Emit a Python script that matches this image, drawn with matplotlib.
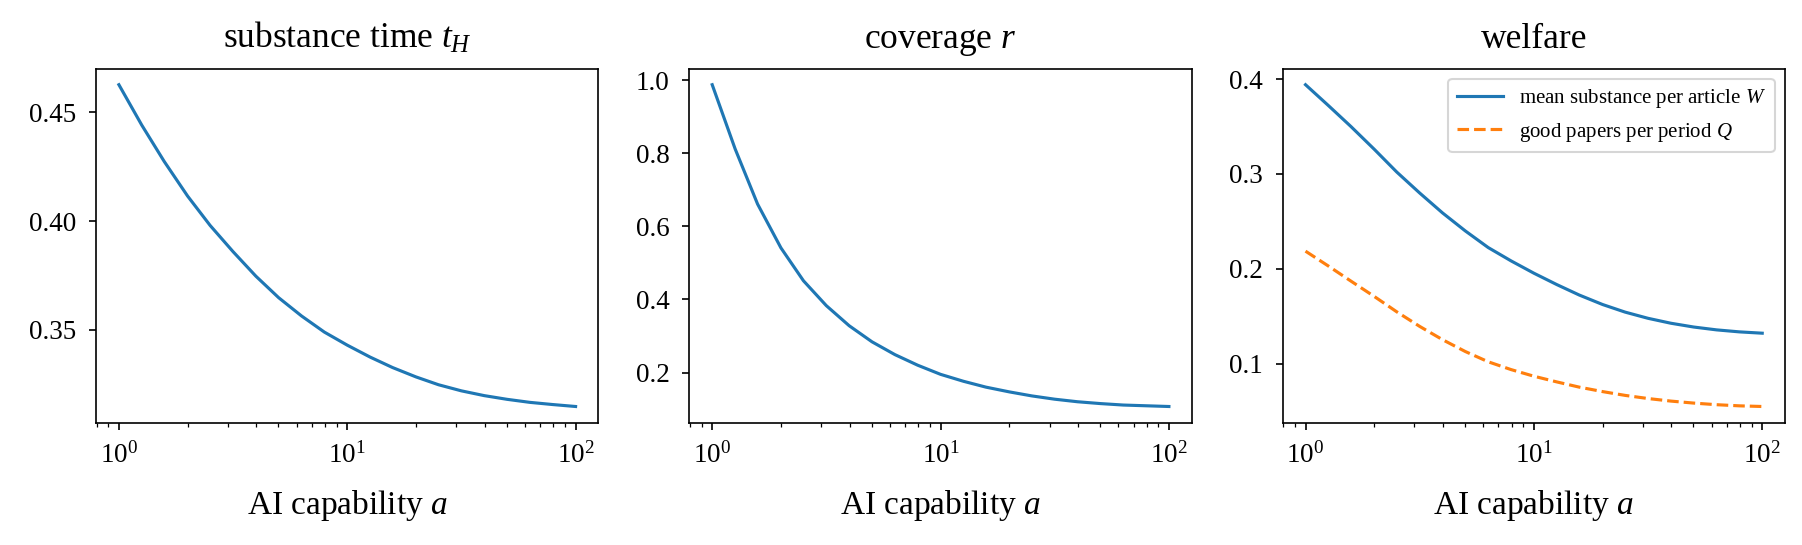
import matplotlib
matplotlib.use("Agg")
import matplotlib.pyplot as plt
from matplotlib.ticker import MultipleLocator

plt.rcParams['font.family'] = ['Liberation Serif', 'DejaVu Serif']
plt.rcParams['mathtext.fontset'] = 'custom'
plt.rcParams['mathtext.rm'] = 'Liberation Serif'
plt.rcParams['mathtext.it'] = 'Liberation Serif:italic'

# AI capability grid (log spaced)
a = [1.0, 1.26, 1.58, 2.0, 2.51, 3.16, 3.98, 5.01, 6.31, 7.94, 10.0,
     12.6, 15.8, 20.0, 25.1, 31.6, 39.8, 50.1, 63.1, 79.4, 100.0]

t_H = [0.4627, 0.4441, 0.4274, 0.4115, 0.3980, 0.3860, 0.3747, 0.3648, 0.3564, 0.3490, 0.3430,
       0.3375, 0.3327, 0.3284, 0.3248, 0.3220, 0.3198, 0.3181, 0.3167, 0.3157, 0.3148]

r = [0.9875, 0.812, 0.661, 0.541, 0.451, 0.383, 0.328, 0.284, 0.249, 0.220, 0.195,
     0.176, 0.160, 0.147, 0.136, 0.127, 0.120, 0.115, 0.111, 0.109, 0.107]

W = [0.394, 0.372, 0.350, 0.326, 0.302, 0.280, 0.259, 0.240, 0.2225, 0.2085, 0.1955,
     0.1835, 0.1725, 0.1625, 0.1545, 0.1480, 0.1428, 0.1388, 0.1358, 0.1337, 0.1323]

Q = [0.2187, 0.2030, 0.1872, 0.1710, 0.1548, 0.1395, 0.1255, 0.1130, 0.1022, 0.0940, 0.0870,
     0.0810, 0.0755, 0.0708, 0.0668, 0.0635, 0.0608, 0.0587, 0.0570, 0.0558, 0.0551]

fig, axes = plt.subplots(1, 3, figsize=(1802/150, 545/150), dpi=150)
fig.subplots_adjust(left=0.0533, right=0.9906, top=0.8741, bottom=0.2246, wspace=0.181)

ax = axes[0]
ax.plot(a, t_H)
ax.set_title(r'substance time $t_H$', fontsize=17, pad=10)
ax.yaxis.set_major_locator(MultipleLocator(0.05))

ax = axes[1]
ax.plot(a, r)
ax.set_title(r'coverage $r$', fontsize=17, pad=10)

ax = axes[2]
ax.plot(a, W, label=r'mean substance per article $W$')
ax.plot(a, Q, '--', label=r'good papers per period $Q$')
ax.set_title('welfare', fontsize=17, pad=10)
ax.legend(loc='upper right', fontsize=10, handlelength=2.2)

for ax in axes:
    ax.set_xscale('log')
    ax.set_xlabel(r'AI capability $a$', fontsize=16, labelpad=9)
    ax.tick_params(labelsize=13)
    ax.tick_params(axis='x', which='major', pad=6)
    ax.tick_params(axis='y', pad=6)

fig.savefig('out.png', dpi=150)
